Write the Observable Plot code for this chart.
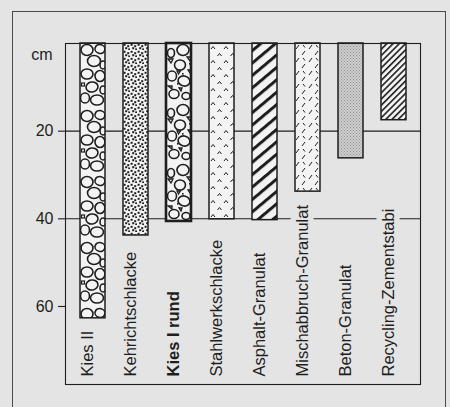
<!DOCTYPE html>
<html><head><meta charset="utf-8">
<script src="https://cdn.jsdelivr.net/npm/d3@7"></script>
<script src="https://cdn.jsdelivr.net/npm/@observablehq/plot@0.6"></script>
<style>
html,body{margin:0;padding:0;background:#e4e4e4;}
#wrap{position:relative;width:450px;height:407px;overflow:hidden;}
#border{position:absolute;left:12px;top:11px;width:432px;height:420px;border:1px solid #4a4a4a;}
#chart{position:absolute;left:0;top:0;}
</style></head><body>
<div id="wrap"><div id="border"></div><div id="chart"></div></div>
<script>
// ---- data ----
const materials = ["Kies II","Kehrichtschlacke","Kies I rund","Stahlwerkschlacke","Asphalt-Granulat","Mischabbruch-Granulat","Beton-Granulat","Recycling-Zementstabi"];
const depths = [62.7, 43.8, 40.6, 40.1, 40.3, 33.8, 26.2, 17.5];
const patternIds = ["pKies2","pDots","pKies1","pChevron","pStripeBold","pDashes","pStipple","pStripeFine"];
const boldMaterial = "Kies I rund";
const yTicks = [20, 40, 60];
const unitLabel = "cm";
const shortGrid = [{y: 60, end: "Kies II"}];

const data = materials.map((m, i) => ({material: m, depth: depths[i], pattern: patternIds[i]}));
const bg = "#e4e4e4", ink = "#1e1e1e";
const font = "'Liberation Sans', Arial, Helvetica, sans-serif";

const chart = Plot.plot({
  width: 450, height: 407,
  marginLeft: 65, marginRight: 30, marginTop: 43, marginBottom: 23,
  style: {background: "transparent", fontFamily: font, color: ink, overflow: "visible"},
  x: {type: "band", domain: materials, paddingInner: 0.42, paddingOuter: 0.257, axis: null},
  y: {domain: [0, 77.8], reverse: true, axis: null},
  color: {type: "identity"},
  marks: [
    Plot.ruleY(yTicks.filter(t => !shortGrid.some(s => s.y === t)), {stroke: ink, strokeWidth: 1.1}),
    Plot.ruleY(shortGrid, {y: "y", x2: "end", stroke: ink, strokeWidth: 1.1, insetRight: -4}),
    Plot.axisY({ticks: yTicks, tickSize: 7, tickPadding: 5, fontSize: 16, label: null, stroke: ink, strokeWidth: 1.1}),
    Plot.barY(data.filter(d => d.material !== boldMaterial), {x: "material", y1: 0, y2: "depth", fill: d => `url(#${d.pattern})`, stroke: ink, strokeWidth: 1.5}),
    Plot.barY(data.filter(d => d.material === boldMaterial), {x: "material", y1: 0, y2: "depth", fill: d => `url(#${d.pattern})`, stroke: ink, strokeWidth: 2.6}),
    Plot.frame({stroke: ink, strokeWidth: 1.1}),
    Plot.text(data.filter(d => d.material !== boldMaterial), {x: "material", text: "material", frameAnchor: "bottom", rotate: -90, textAnchor: "start", dy: -8, fontSize: 16.5, fill: ink, stroke: bg, strokeWidth: 11}),
    Plot.text(data.filter(d => d.material === boldMaterial), {x: "material", text: "material", frameAnchor: "bottom", rotate: -90, textAnchor: "start", dy: -8, fontSize: 16.5, fontWeight: "bold", fill: ink, stroke: bg, strokeWidth: 11}),
    Plot.text([unitLabel], {frameAnchor: "top-left", dx: -13, dy: 5, textAnchor: "end", fontSize: 16, fill: ink})
  ]
});

// ---- fill patterns, aligned to each bar via the x/y scales ----
const xs = chart.scale("x"), ys = chart.scale("y");
const top0 = ys.apply(0);
const defs = d3.select(chart).insert("defs", ":first-child");
function pat(id, material, w, h, base, opts = {}) {
  const p = defs.append("pattern").attr("id", id).attr("patternUnits", "userSpaceOnUse")
    .attr("x", opts.free ? 0 : xs.apply(material)).attr("y", top0)
    .attr("width", w).attr("height", h);
  if (opts.rotate) p.attr("patternTransform", `rotate(${opts.rotate})`);
  p.append("rect").attr("width", w).attr("height", h).attr("fill", base);
  return p;
}
function ovals(p, list, sw) {
  list.forEach(([cx,cy,rx,ry,r]) => p.append("ellipse").attr("cx",cx).attr("cy",cy).attr("rx",rx).attr("ry",ry)
    .attr("transform",`rotate(${r||0},${cx},${cy})`).attr("fill","none").attr("stroke",ink).attr("stroke-width",sw));
}
const barFill = "#f3f3f3";
// Kies II: pebbles
{
  const p = pat("pKies2", materials[0], 26, 66, barFill);
  ovals(p, [[7,7,6,5.5],[20,6,5,4.5,15],[14,18,6.5,5.5],[23,22,3,4],[7,31,6,5],[20,33,5,5.5],[12,44,6,5,-10],[23,47,3,4],[5,55,4.5,5],[17,57,6.5,5]], 1.6);
  p.append("rect").attr("x",1.5).attr("y",40).attr("width",3).attr("height",3).attr("fill","none").attr("stroke",ink).attr("stroke-width",1.2);
}
// Kies I rund: pebbles + angular bits
{
  const p = pat("pKies1", materials[2], 26, 60, barFill);
  ovals(p, [[17,7,6,5.5],[5,10,3.5,4.5],[14,22,5.5,5],[6,33,4.5,5],[18,38,6,5,15],[8,51,5,4.5],[20,53,4,3.5]], 1.6);
  ["M2,16 h5 l-2,4 z","M21,14 h4 l-1,4 z","M11,28 h3.5 l-2,3 z","M22,27 h3 l-1,3 z","M2,43 h4 v3 z","M13,45 h3 l-1,3 z"].forEach(d =>
    p.append("path").attr("d", d).attr("fill","none").attr("stroke",ink).attr("stroke-width",1.3));
  [[23,20],[16,30],[11,40]].forEach(([x,y]) => p.append("rect").attr("x",x).attr("y",y).attr("width",1.6).attr("height",1.6).attr("fill",ink));
}
// Kehrichtschlacke: dots
{
  const p = pat("pDots", materials[1], 7, 7, barFill);
  [[0.6,0.8],[4.2,2.2],[2.2,4.2],[5.2,5.4]].forEach(([x,y]) => p.append("rect").attr("x",x).attr("y",y).attr("width",2).attr("height",2).attr("fill",ink));
}
// Stahlwerkschlacke: chevrons
{
  const p = pat("pChevron", materials[3], 13, 14, barFill);
  ["M2,6 l2,-2.5 l2,2.5","M8.5,13 l2,-2.5 l2,2.5"].forEach(d =>
    p.append("path").attr("d", d).attr("fill","none").attr("stroke",ink).attr("stroke-width",1));
}
// Asphalt-Granulat: bold diagonal stripes
{
  const p = pat("pStripeBold", materials[4], 9.5, 10, barFill, {free: true, rotate: 50});
  p.append("rect").attr("x", 0).attr("width", 3).attr("height", 10).attr("fill", ink);
}
// Mischabbruch-Granulat: scattered dashes
{
  const p = pat("pDashes", materials[5], 13, 13, barFill);
  ["M1,6 l3,-4","M7,12 l3,-4","M8,2 l2,2.5"].forEach(d =>
    p.append("path").attr("d", d).attr("fill","none").attr("stroke",ink).attr("stroke-width",1));
}
// Beton-Granulat: fine gray stipple
{
  const p = pat("pStipple", materials[6], 3, 3, "#cfcfcf");
  [[0,0],[1.5,1.5]].forEach(([x,y]) => p.append("rect").attr("x",x).attr("y",y).attr("width",1).attr("height",1).attr("fill","#8f8f8f"));
}
// Recycling-Zementstabi: fine diagonal stripes
{
  const p = pat("pStripeFine", materials[7], 4.4, 10, barFill, {free: true, rotate: 45});
  p.append("rect").attr("x", 0).attr("width", 1.6).attr("height", 10).attr("fill", ink);
}

document.getElementById("chart").appendChild(chart);
</script>
</body></html>
